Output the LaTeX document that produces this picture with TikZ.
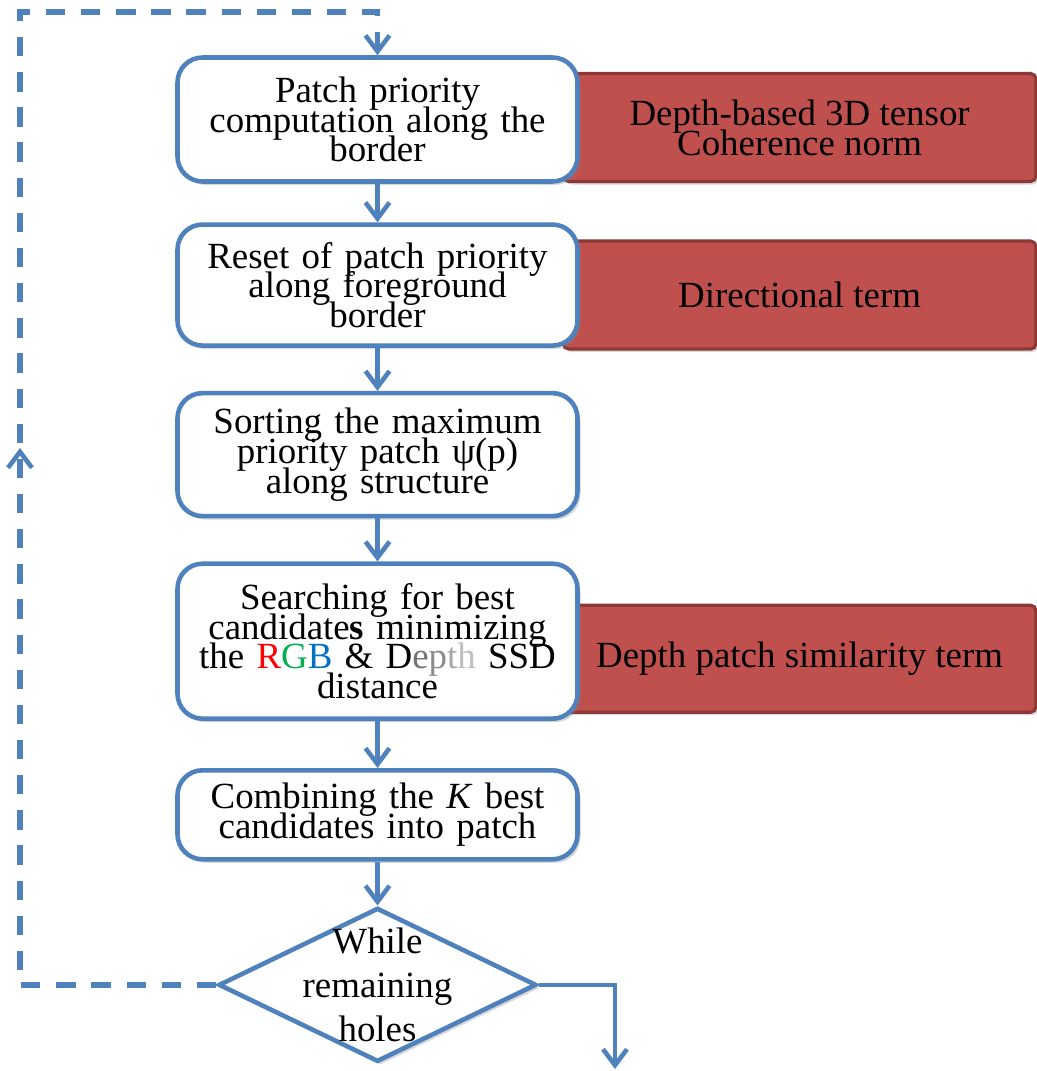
\documentclass[tikz,border=0pt]{standalone}
\usepackage{fontspec}
\setmainfont{Liberation Serif}
\usetikzlibrary{arrows.meta,shapes.geometric,positioning,calc,backgrounds,shadows,decorations.markings}
\definecolor{flowBlue}{HTML}{4F81BD}
\definecolor{termRed}{HTML}{C0504D}
\definecolor{termRedLine}{HTML}{8C3836}
\definecolor{rgbR}{HTML}{FF0000}
\definecolor{rgbG}{HTML}{00B050}
\definecolor{rgbB}{HTML}{0070C0}
\newcommand{\flowfont}{\fontsize{21}{17}\selectfont\lineskiplimit=-20pt}
\tikzset{
  stepBox/.style={draw=flowBlue,line width=2.6pt,rounded corners=0.5cm,fill=white,
                  align=center,text width=7.6cm,minimum width=8.0cm,inner sep=2pt,
                  font=\flowfont,
                  drop shadow={opacity=0.3,shadow xshift=0.06cm,shadow yshift=-0.07cm}},
  termBox/.style={draw=termRedLine,line width=1.8pt,rounded corners=3pt,fill=termRed,
                  align=center,minimum width=9.45cm,font=\flowfont,
                  drop shadow={opacity=0.3,shadow xshift=0.05cm,shadow yshift=-0.06cm}},
  flowArrow/.style={draw=flowBlue,line width=2.6pt,
                    -{Straight Barb[length=3.2mm,width=4.8mm,line width=2.6pt]}},
  loopArrow/.style={draw=flowBlue,line width=3.2pt,dash pattern=on 11pt off 9pt,
                    -{Straight Barb[length=3.2mm,width=4.8mm,line width=2.6pt]},
                    postaction={decorate},
                    decoration={markings,mark=at position 0.467 with
                      {\arrow{Straight Barb[length=3.2mm,width=4.8mm,line width=2.6pt]}}}}
}
\begin{document}
\begin{tikzpicture}[node distance=0.9cm]
\useasboundingbox (0,0) rectangle (20.72,-21.42);
% main flow
\node[stepBox,minimum height=2.48cm] (b1) at (7.55,-2.39)
  {Patch priority\\computation along the\\border};
\node[stepBox,minimum height=2.42cm,below=0.77cm of b1] (b2)
  {Reset of patch priority\\along foreground\\border};
\node[stepBox,minimum height=2.46cm,below=0.86cm of b2] (b3)
  {Sorting the maximum\\priority patch ψ(p)\\along structure};
\node[stepBox,minimum height=3.1cm,below=0.86cm of b3] (b4)
  {Searching for best\\candidate\textbf{s} minimizing\\the \textcolor{rgbR}{R}\textcolor{rgbG}{G}\textcolor{rgbB}{B} \& D\textcolor{black!55}{e}\textcolor{black!45}{p}\textcolor{black!35}{t}\textcolor{black!25}{h} SSD\\distance};
\node[stepBox,minimum height=1.78cm,below=0.94cm of b4] (b5)
  {Combining the \textit{K} best\\candidates into patch};
\node[diamond,draw=flowBlue,line width=2.6pt,fill=white,inner sep=0pt,
      minimum width=6.36cm,minimum height=3.08cm,below=0.88cm of b5,
      drop shadow={opacity=0.3,shadow xshift=0.06cm,shadow yshift=-0.07cm},
      label={[align=center,font=\fontsize{21}{25}\selectfont]center:While\\remaining\\holes}] (dia) {};
% terms behind the boxes
\begin{scope}[on background layer]
\node[termBox,minimum height=2.16cm,right=-0.36cm of b1,yshift=-0.16cm] (t1)
  {Depth-based 3D tensor\\Coherence norm};
\node[termBox,minimum height=2.16cm,right=-0.36cm of b2,yshift=-0.2cm] (t2)
  {Directional term};
\node[termBox,minimum height=2.14cm,right=-0.36cm of b4,yshift=-0.35cm] (t3)
  {Depth patch similarity term};
\end{scope}
% connectors
\foreach \a/\b in {b1/b2,b2/b3,b3/b4,b4/b5,b5/dia}
  \draw[flowArrow] (\a) -- (\b);
\coordinate (loopTop) at (0.4,-0.24);
\coordinate (outEnd) at (12.3,-21.38);
\draw[loopArrow] (dia.west) -- (dia.west -| loopTop) -- (loopTop)
  -- (loopTop -| b1.north) -- (b1.north);
\draw[flowArrow] (dia.east) -| (outEnd);
\end{tikzpicture}
\end{document}
